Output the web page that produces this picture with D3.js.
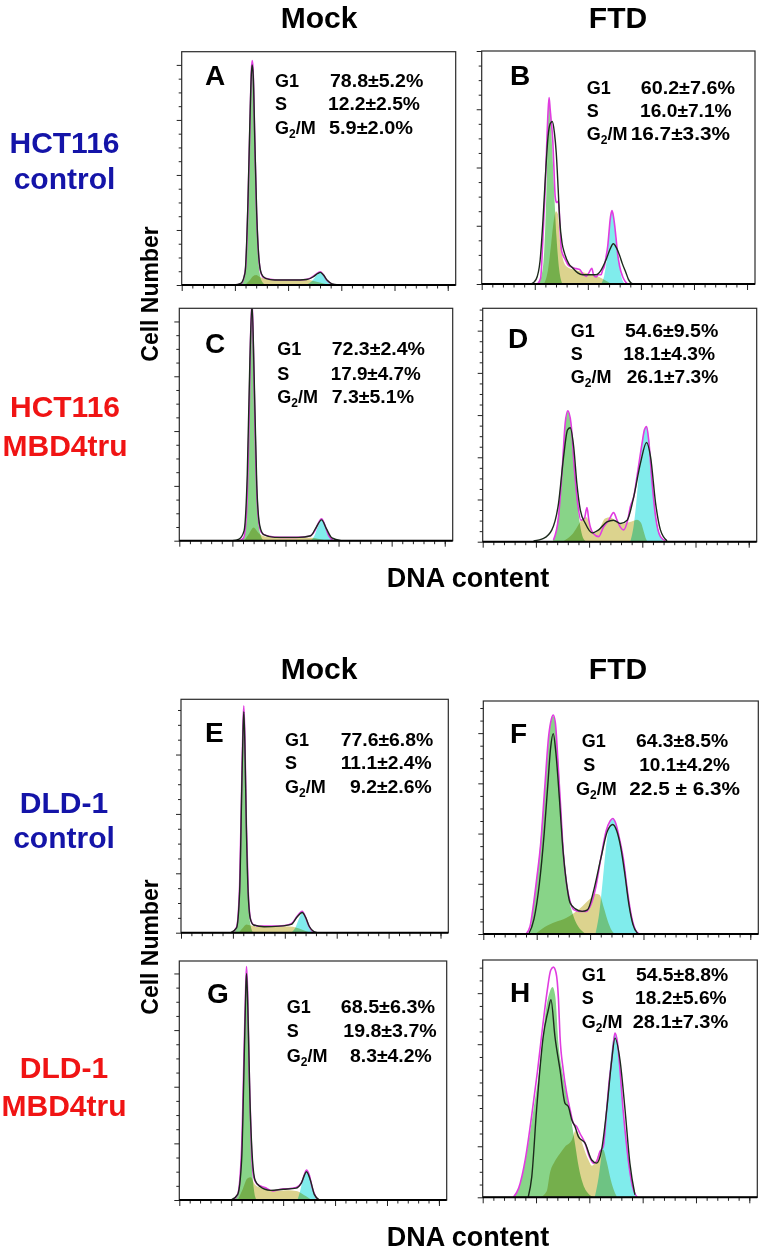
<!DOCTYPE html>
<html><head><meta charset="utf-8">
<script src="https://cdn.jsdelivr.net/npm/d3@7"></script>
<style>
body{margin:0;background:#fff;}
svg{display:block;font-family:"Liberation Sans",Arial,Helvetica,sans-serif;font-weight:bold;}
</style></head><body>
<svg id="chart" width="769" height="1254"></svg>
<script>
// ---------------- DATA ----------------
const panelIds = ["A","B","C","D","E","F","G","H"];
const colTitles = ["Mock","FTD"];
const rowTop = ["HCT116 control","HCT116 MBD4tru"];
const rowBottom = ["DLD-1 control","DLD-1 MBD4tru"];
const axisTitleY = "Cell Number";
const axisTitleX = "DNA content";
const xMajorTicks = [0,200,400,600,800,1000];
const xMinorTicks = [40,80,120,160,240,280,320,360,440,480,520,560,640,680,720,760,840,880,920,960,1000];
const yMajorTicks = [0,100,200,300,400,500];
const yMinorTicks = [25,50,75,125,150,175,225,250,275,325,350,375,425,450,475,525,550];
const yMax = [424,400,424,553,393,464,422,465];
const statLabels = ["G1","S","G2/M"];
const statG1 = ["78.8±5.2%","60.2±7.6%","72.3±2.4%","54.6±9.5%","77.6±6.8%","64.3±8.5%","68.5±6.3%","54.5±8.8%"];
const statS = ["12.2±2.5%","16.0±7.1%","17.9±4.7%","18.1±4.3%","11.1±2.4%","10.1±4.2%","19.8±3.7%","18.2±5.6%"];
const statG2M = ["5.9±2.0%","16.7±3.3%","7.3±5.1%","26.1±7.3%","9.2±2.6%","22.5 ± 6.3%","8.3±4.2%","28.1±7.3%"];

// Panel A
const A_g1 = [[212,0],[228,4],[240,25],[248,90],[255,215],[260,330],[265,406],[270,345],[276,225],[283,100],[290,35],[300,8],[315,0]];
const A_s = [[238,0],[255,8],[268,16],[280,18],[295,14],[320,11],[360,9],[420,9],[470,9],[500,7],[530,3],[555,0]];
const A_g2 = [[465,0],[482,4],[498,12],[511,20],[521,23],[532,18],[545,8],[560,2],[575,0]];
const A_raw = [[200,0],[225,3],[240,30],[250,160],[257,300],[262,390],[265,408],[268,395],[274,280],[281,140],[289,55],[298,22],[310,13],[340,10],[380,9],[430,9],[465,10],[485,13],[500,18],[512,22],[521,24],[532,19],[545,9],[560,3],[580,0]];
const A_fit = [[195,0],[222,3],[238,22],[249,150],[256,290],[262,385],[265,400],[269,380],[275,260],[282,130],[290,50],[300,20],[315,12],[350,9],[420,9],[470,10],[495,15],[512,21],[521,23],[533,18],[548,8],[565,2],[590,0]];
// Panel B
const B_g1 = [[212,0],[226,15],[236,60],[244,160],[250,270],[254,318],[259,295],[266,230],[274,150],[282,80],[292,25],[305,0]];
const B_s = [[235,0],[250,25],[262,70],[272,110],[280,125],[287,120],[295,75],[305,45],[320,30],[345,25],[370,22],[400,18],[430,14],[455,9],[475,4],[490,0]];
const B_g2 = [[450,0],[462,15],[472,45],[480,90],[486,118],[491,124],[497,112],[505,80],[514,45],[525,15],[540,0]];
const B_raw = [[210,0],[222,10],[231,82],[238,150],[244,225],[250,295],[254,320],[258,300],[263,275],[268,245],[273,190],[277,150],[282,140],[288,142],[292,128],[296,90],[300,60],[306,50],[315,42],[325,33],[335,30],[350,27],[360,26],[369,25],[380,18],[394,13],[405,20],[415,27],[422,15],[431,12],[440,16],[450,16],[456,24],[462,30],[468,45],[475,65],[480,90],[484,110],[488,122],[491,126],[495,120],[500,105],[506,80],[512,53],[520,30],[531,13],[540,5],[550,0]];
const B_fit = [[187,0],[205,8],[220,40],[231,110],[242,200],[250,253],[258,275],[266,279],[274,260],[281,225],[288,165],[294,110],[303,70],[312,53],[328,35],[344,27],[362,19],[381,16],[410,16],[431,16],[450,24],[469,42],[484,60],[496,69],[508,62],[519,50],[530,35],[544,19],[553,8],[562,2],[570,0]];
// Panel C
const C_g1 = [[230,0],[245,6],[254,50],[262,200],[268,360],[274,432],[280,330],[287,170],[295,55],[305,12],[318,0]];
const C_s = [[245,0],[262,12],[280,24],[298,14],[330,7],[380,6],[430,6],[480,6],[510,5],[535,2],[555,0]];
const C_g2 = [[495,0],[508,8],[522,26],[536,38],[548,28],[562,10],[578,0]];
const C_raw = [[225,0],[242,5],[253,50],[262,200],[268,360],[274,440],[280,330],[288,150],[297,45],[308,16],[330,9],[380,6],[440,6],[490,8],[508,16],[522,30],[536,40],[548,29],[562,10],[580,0]];
const C_fit = [[200,0],[225,3],[244,18],[256,120],[266,330],[274,432],[282,300],[292,100],[303,28],[318,11],[360,6],[450,6],[495,9],[513,22],[536,38],[554,22],[575,5],[610,0]];
// Panel D
const D_g1 = [[262,0],[278,30],[292,120],[305,240],[314,295],[320,310],[328,292],[338,230],[348,150],[358,80],[368,32],[380,6],[392,0]];
const D_s = [[300,0],[320,8],[340,20],[360,40],[375,55],[390,58],[405,35],[420,20],[440,32],[460,55],[480,58],[500,48],[520,42],[540,45],[560,48],[580,52],[595,45],[605,25],[615,5],[620,0]];
const D_g2 = [[555,0],[568,40],[580,110],[592,200],[602,250],[610,268],[617,273],[625,245],[637,150],[650,65],[665,18],[680,0]];
const D_raw = [[266,4],[285,59],[298,162],[310,280],[320,310],[332,280],[344,178],[357,91],[369,51],[382,55],[392,81],[399,51],[415,20],[436,12],[455,36],[474,51],[492,69],[505,51],[518,34],[530,28],[545,51],[555,83],[568,107],[580,154],[599,233],[608,265],[616,273],[624,241],[637,138],[650,59],[668,12],[687,2]];
const D_fit = [[191,2],[229,8],[260,28],[285,91],[304,201],[319,265],[329,270],[342,225],[354,138],[367,75],[386,43],[411,21],[436,28],[467,47],[492,51],[518,43],[543,51],[568,107],[593,186],[616,235],[631,201],[650,91],[668,28],[693,2]];
// Panel E
const E_g1 = [[200,0],[214,8],[224,50],[231,170],[236,290],[242,378],[246,320],[251,190],[258,70],[266,18],[278,0]];
const E_s = [[222,0],[238,8],[252,14],[270,12],[300,10],[350,10],[400,11],[430,10],[455,7],[480,3],[500,0]];
const E_g2 = [[425,0],[440,8],[455,24],[467,33],[478,25],[492,10],[510,0]];
const E_raw = [[195,0],[214,9],[226,80],[234,250],[239,350],[242,382],[246,330],[252,180],[259,70],[267,25],[278,14],[300,11],[350,11],[400,12],[428,16],[448,28],[467,36],[478,28],[492,12],[508,2],[520,0]];
const E_fit = [[192,0],[214,8],[226,70],[234,240],[239,340],[242,372],[246,320],[252,175],[259,65],[268,22],[280,13],[320,10],[380,11],[425,14],[448,27],[467,34],[480,26],[495,10],[512,2],[525,0]];
// Panel F
const F_g1 = [[175,0],[187,55],[200,110],[210,160],[219,215],[230,290],[242,370],[252,420],[262,434],[270,418],[280,350],[290,262],[300,175],[310,115],[320,72],[335,40],[350,20],[370,6],[385,0]];
const F_s = [[195,0],[230,14],[270,24],[310,32],[340,42],[370,55],[400,70],[420,80],[435,78],[450,55],[465,28],[480,8],[492,0]];
const F_g2 = [[420,0],[435,45],[448,110],[460,175],[470,212],[480,227],[487,229],[497,220],[510,190],[525,150],[540,85],[555,35],[568,8],[578,0]];
const F_raw = [[160,0],[175,15],[187,55],[200,110],[215,180],[230,290],[245,395],[255,428],[262,436],[270,420],[280,340],[290,250],[300,160],[312,100],[325,65],[340,48],[360,45],[385,45],[400,55],[420,90],[440,150],[460,205],[475,225],[485,230],[495,222],[510,190],[525,148],[540,85],[555,35],[570,8],[585,0]];
const F_fit = [[170,0],[190,30],[210,100],[228,200],[242,300],[252,370],[262,399],[272,360],[285,270],[298,170],[312,100],[325,62],[345,50],[370,45],[390,48],[415,90],[440,150],[465,205],[485,218],[500,205],[515,172],[530,120],[545,60],[560,20],[580,0]];
// Panel G
const G_g1 = [[210,0],[225,10],[238,60],[247,200],[254,350],[259,406],[264,350],[270,200],[278,80],[287,20],[297,0]];
const G_s = [[225,0],[245,20],[262,38],[275,40],[290,28],[310,22],[340,18],[380,16],[420,17],[450,16],[470,12],[490,6],[510,0]];
const G_g2 = [[455,0],[465,15],[478,40],[490,52],[500,42],[512,20],[528,0]];
const G_raw = [[205,0],[225,10],[240,90],[250,270],[256,380],[259,412],[263,370],[270,210],[278,90],[287,40],[300,28],[330,22],[360,16],[390,19],[420,20],[450,22],[470,30],[482,45],[490,53],[500,45],[512,22],[528,4],[540,0]];
const G_fit = [[200,0],[225,10],[240,70],[250,250],[256,370],[259,400],[264,340],[272,180],[282,70],[292,35],[310,24],[350,17],[400,19],[450,21],[470,30],[490,50],[505,35],[520,10],[540,0]];
// Panel H
const H_g1 = [[115,0],[140,25],[171,106],[190,170],[209,237],[225,310],[237,367],[250,400],[262,412],[272,395],[284,302],[302,237],[321,184],[334,145],[346,106],[360,60],[375,28],[395,8],[420,0]];
const H_s = [[215,0],[240,12],[252,47],[270,70],[290,86],[310,100],[334,112],[348,130],[365,118],[380,95],[395,75],[410,62],[425,72],[440,90],[452,93],[465,70],[480,35],[495,10],[505,0]];
const H_g2 = [[420,0],[435,40],[445,80],[455,120],[465,171],[475,240],[485,295],[496,320],[505,305],[515,250],[526,171],[540,100],[552,50],[565,15],[578,0]];
const H_raw = [[115,0],[135,18],[160,75],[185,165],[205,245],[225,335],[242,405],[255,445],[265,451],[275,440],[284,390],[290,315],[302,250],[315,204],[328,171],[340,145],[352,139],[365,125],[384,106],[400,80],[415,67],[427,70],[440,90],[452,99],[465,171],[475,230],[484,269],[490,300],[496,322],[505,305],[515,250],[526,175],[540,100],[552,50],[565,15],[580,0]];
const H_fit = [[171,1],[184,40],[202,171],[227,315],[246,367],[256,387],[271,315],[290,250],[309,184],[321,178],[334,152],[346,139],[359,119],[384,106],[409,73],[427,67],[446,93],[465,171],[484,269],[496,312],[515,269],[534,171],[552,67],[571,5]];

// ---------------- LAYOUT (positions only) ----------------
const frames = {A:[181.7,51.7,455.7,285],B:[481.7,51,755,284],C:[179.3,308.3,452.7,540.7],D:[482.7,308.3,756.7,541.7],
  E:[181,699.3,448.3,932.7],F:[483.3,701,758.3,934],G:[179.3,961,446.7,1200],H:[482.7,960,757.3,1197.3]};
const letterPos = {A:[205,85],B:[510,85],C:[205,353.3],D:[508,348.3],E:[205,741.7],F:[510,743.3],G:[207,1003.3],H:[510,1001.7]};
const statLayout = {
 A:{lx:[275,275,275],by:[86.7,110,133.5],vx:[[330,423.3],[328,420],[329,413]]},
 B:{lx:[586.7,586.7,586.7],by:[94,116.7,140],vx:[[640.7,735],[640,731.7],[630.7,730]]},
 C:{lx:[277.3,277.3,277.3],by:[355,380,403.3],vx:[[331.7,425],[330.7,420.7],[331.7,414]]},
 D:{lx:[570.7,570.7,570.7],by:[336.7,360,383.3],vx:[[625,718.3],[623.3,715],[626.7,718.3]]},
 E:{lx:[285,285,285],by:[746,769.3,793.3],vx:[[340.7,433.3],[340.7,431.7],[350,431.7]]},
 F:{lx:[581.7,583.3,576],by:[747.3,770.7,795],vx:[[636,728.3],[639.3,730],[629.3,740]]},
 G:{lx:[286.7,286.7,286.7],by:[1013.3,1037.3,1061.7],vx:[[340.7,435],[343.3,436.7],[350,431.7]]},
 H:{lx:[581.7,581.7,581.7],by:[980.7,1004.3,1028.3],vx:[[636,728.3],[635,726.7],[632.7,728.3]]}
};
const colors = {g1:"#88d488", s:"#dcd38e", g2:"#80ecec", raw:"#e03ce0", fit:"#1c2a1c", blue:"#1414a8", red:"#f01414"};

const series = {
 A:[A_g1,A_s,A_g2,A_raw,A_fit],B:[B_g1,B_s,B_g2,B_raw,B_fit],C:[C_g1,C_s,C_g2,C_raw,C_fit],D:[D_g1,D_s,D_g2,D_raw,D_fit],
 E:[E_g1,E_s,E_g2,E_raw,E_fit],F:[F_g1,F_s,F_g2,F_raw,F_fit],G:[G_g1,G_s,G_g2,G_raw,G_fit],H:[H_g1,H_s,H_g2,H_raw,H_fit]
};

// ---------------- DRAW ----------------
const svg = d3.select("#chart");
const defs = svg.append("defs");

panelIds.forEach((id, i) => {
  const [l,t,r,b] = frames[id];
  const x = d3.scaleLinear().domain([0,1030]).range([l,r]);
  const y = d3.scaleLinear().domain([0,yMax[i]]).range([b,t]);
  const [g1,s,g2,raw,fit] = series[id];
  defs.append("clipPath").attr("id","clip"+id).append("rect").attr("x",l).attr("y",t).attr("width",r-l).attr("height",b-t);
  const g = svg.append("g");
  const plot = g.append("g").attr("clip-path",`url(#clip${id})`);
  const area = d3.area().x(d=>x(d[0])).y0(y(0)).y1(d=>y(d[1])).curve(d3.curveMonotoneX);
  const line = d3.line().x(d=>x(d[0])).y(d=>y(d[1])).curve(d3.curveMonotoneX);
  [[g1,colors.g1],[s,colors.s],[g2,colors.g2]].forEach(([dd,c])=>{
    plot.append("path").datum(dd).attr("d",area).attr("fill",c).style("mix-blend-mode","multiply");
  });
  plot.append("path").datum(raw).attr("d",line).attr("fill","none").attr("stroke",colors.raw).attr("stroke-width",1.6).attr("stroke-linejoin","round");
  plot.append("path").datum(fit).attr("d",line).attr("fill","none").attr("stroke",colors.fit).attr("stroke-width",1.4).attr("stroke-linejoin","round");

  // frame
  g.append("rect").attr("x",l).attr("y",t).attr("width",r-l).attr("height",b-t).attr("fill","none").attr("stroke","#2a2a2a").attr("stroke-width",1.2);
  // axes
  const xMaj = g.append("g").attr("transform",`translate(0,${b})`).call(d3.axisBottom(x).tickValues(xMajorTicks).tickSize(6).tickFormat(""));
  const xMin = g.append("g").attr("transform",`translate(0,${b})`).call(d3.axisBottom(x).tickValues(xMinorTicks).tickSize(3.5).tickFormat(""));
  const yTicksMaj = yMajorTicks.filter(v=>v<=yMax[i]);
  const yTicksMin = yMinorTicks.filter(v=>v<=yMax[i]);
  const yMaj = g.append("g").attr("transform",`translate(${l},0)`).call(d3.axisLeft(y).tickValues(yTicksMaj).tickSize(5).tickFormat(""));
  const yMin = g.append("g").attr("transform",`translate(${l},0)`).call(d3.axisLeft(y).tickValues(yTicksMin).tickSize(3).tickFormat(""));
  [xMaj,xMin,yMaj,yMin].forEach(a=>{ a.select(".domain").remove(); a.selectAll("line").attr("stroke","#222").attr("stroke-width",1); });
  g.append("line").attr("x1",l).attr("x2",r).attr("y1",b).attr("y2",b).attr("stroke","#000").attr("stroke-width",2);

  // panel letter
  g.append("text").attr("x",letterPos[id][0]).attr("y",letterPos[id][1]).attr("font-size",28).text(id);

  // stats
  const L = statLayout[id];
  const vals = [statG1[i], statS[i], statG2M[i]];
  statLabels.forEach((lab,k)=>{
    const tx = g.append("text").attr("x",L.lx[k]).attr("y",L.by[k]).attr("font-size",18);
    if (lab === "G2/M") {
      tx.append("tspan").text("G");
      tx.append("tspan").attr("font-size",12).attr("dy",4).text("2");
      tx.append("tspan").attr("dy",-4).text("/M");
    } else tx.text(lab);
    g.append("text").attr("x",L.vx[k][0]).attr("y",L.by[k]).attr("font-size",18)
      .attr("textLength",L.vx[k][1]-L.vx[k][0]).attr("lengthAdjust","spacingAndGlyphs").text(vals[k]);
  });
});

// column titles
const titleRows = [28, 679];
titleRows.forEach(by=>{
  svg.append("text").attr("x",319).attr("y",by).attr("text-anchor","middle").attr("font-size",30).text(colTitles[0]);
  svg.append("text").attr("x",618).attr("y",by).attr("text-anchor","middle").attr("font-size",30).text(colTitles[1]);
});

// row labels
function rowLabel(txt, x, y1, y2, color){
  const parts = txt.split(" ");
  svg.append("text").attr("x",x).attr("y",y1).attr("text-anchor","middle").attr("font-size",30).attr("fill",color).text(parts[0]);
  svg.append("text").attr("x",x).attr("y",y2).attr("text-anchor","middle").attr("font-size",30).attr("fill",color).text(parts[1]);
}
rowLabel(rowTop[0], 64.5, 152.7, 189.3, colors.blue);
rowLabel(rowTop[1], 65, 417, 455.5, colors.red);
rowLabel(rowBottom[0], 64, 812.7, 847.7, colors.blue);
rowLabel(rowBottom[1], 64, 1077.7, 1116.3, colors.red);

// axis titles
[[158,294],[158,947]].forEach(([x,y])=>{
  svg.append("text").attr("transform",`translate(${x},${y}) rotate(-90)`).attr("text-anchor","middle").attr("font-size",23).text(axisTitleY);
});
[586.7,1246].forEach(by=>{
  svg.append("text").attr("x",468).attr("y",by).attr("text-anchor","middle").attr("font-size",27).text(axisTitleX);
});
</script></body></html>
